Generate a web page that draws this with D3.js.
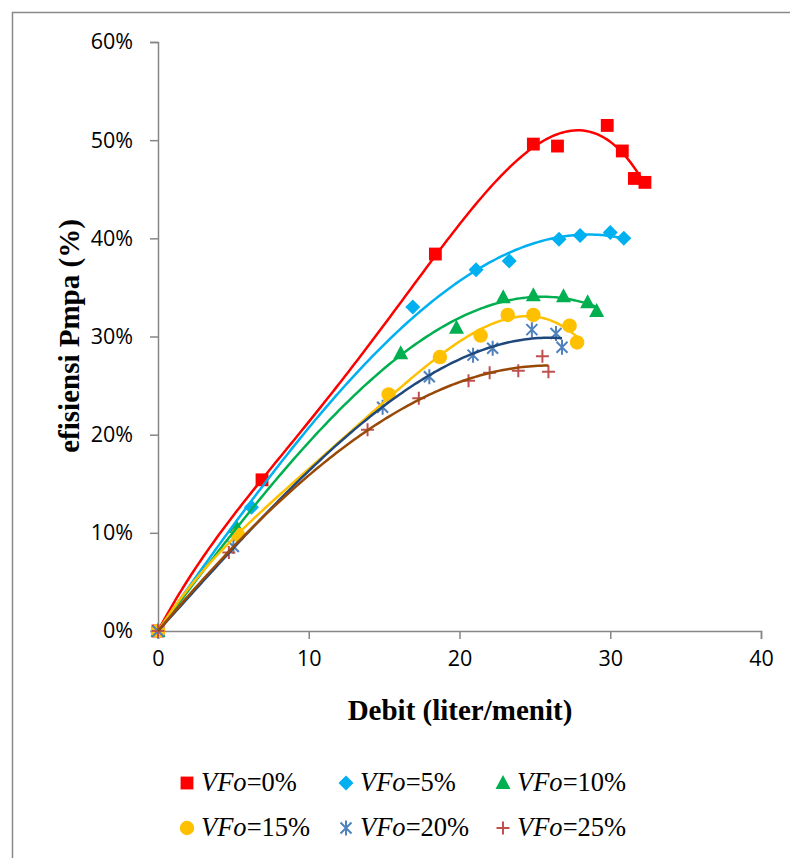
<!DOCTYPE html>
<html>
<head>
<meta charset="utf-8">
<script src="https://cdn.jsdelivr.net/npm/d3@7"></script>
<style>
  body { margin: 0; background: #fff; }
  svg { display: block; }
</style>
</head>
<body>
<div id="chart"></div>
<script>
// DATA
const seriesLabels = ["0%", "5%", "10%", "15%", "20%", "25%"];

const debit0 = [0, 6.9, 18.4, 24.9, 26.5, 29.8, 30.8, 31.6, 32.3];
const eff0 = [0, 15.4, 38.4, 49.6, 49.4, 51.5, 48.9, 46.1, 45.7];

const debit5 = [0, 6.2, 16.9, 21.1, 23.3, 26.6, 28.0, 30.0, 30.9];
const eff5 = [0, 12.6, 33.0, 36.8, 37.7, 39.9, 40.3, 40.6, 40.0];

const debit10 = [0, 5.2, 16.1, 19.8, 22.9, 24.9, 26.9, 28.5, 29.1];
const eff10 = [0, 10.6, 28.3, 30.9, 34.0, 34.2, 34.1, 33.5, 32.6];

const debit15 = [0, 5.3, 15.3, 18.7, 21.4, 23.2, 24.9, 27.3, 27.8];
const eff15 = [0, 9.8, 24.1, 27.9, 30.1, 32.2, 32.2, 31.1, 29.4];

const debit20 = [0, 5.0, 14.9, 18.0, 20.9, 22.2, 24.8, 26.4, 26.8];
const eff20 = [0, 8.6, 22.8, 25.9, 28.1, 28.8, 30.7, 30.3, 28.9];

const debit25 = [0, 4.7, 13.9, 17.3, 20.6, 22.0, 23.9, 25.5, 25.9];
const eff25 = [0, 8.0, 20.5, 23.7, 25.5, 26.3, 26.5, 28.0, 26.4];

const xTicks = [0, 10, 20, 30, 40];
const yTicks = [0, 10, 20, 30, 40, 50, 60];

// STYLE
const markerColors = ["#ff0000", "#00b0f0", "#00b050", "#ffc000", "#4f81bd", "#c0504d"];
const lineColors = ["#ff0000", "#00b0f0", "#00b050", "#ffc000", "#1f497d", "#984807"];
const markerKinds = ["square", "diamond", "triangle", "circle", "star", "plus"];
const trendOrder = [4, 3, 3, 4, 3, 3];

const series = [
    [debit0, eff0], [debit5, eff5], [debit10, eff10],
    [debit15, eff15], [debit20, eff20], [debit25, eff25]
].map(function (p, i) {
    return {
        label: seriesLabels[i],
        points: p[0].map(function (x, j) { return { x: x, y: p[1][j] }; }),
        kind: markerKinds[i],
        mColor: markerColors[i],
        lColor: lineColors[i],
        order: trendOrder[i]
    };
});

// polynomial trendline, intercept set to 0
function polyFit(pts, order) {
    const A = [], b = [];
    for (let i = 0; i < order; i++) {
        A.push(new Array(order).fill(0));
        b.push(0);
    }
    pts.forEach(function (p) {
        for (let i = 0; i < order; i++) {
            const xi = Math.pow(p.x, i + 1);
            b[i] += p.y * xi;
            for (let j = 0; j < order; j++) {
                A[i][j] += xi * Math.pow(p.x, j + 1);
            }
        }
    });
    // gauss
    for (let c = 0; c < order; c++) {
        let piv = c;
        for (let r = c + 1; r < order; r++) {
            if (Math.abs(A[r][c]) > Math.abs(A[piv][c])) piv = r;
        }
        [A[c], A[piv]] = [A[piv], A[c]];
        [b[c], b[piv]] = [b[piv], b[c]];
        for (let r = c + 1; r < order; r++) {
            const f = A[r][c] / A[c][c];
            for (let k = c; k < order; k++) A[r][k] -= f * A[c][k];
            b[r] -= f * b[c];
        }
    }
    const coef = new Array(order).fill(0);
    for (let r = order - 1; r >= 0; r--) {
        let s = b[r];
        for (let k = r + 1; k < order; k++) s -= A[r][k] * coef[k];
        coef[r] = s / A[r][r];
    }
    return function (x) {
        let y = 0;
        for (let i = 0; i < order; i++) y += coef[i] * Math.pow(x, i + 1);
        return y;
    };
}

function markerPath(kind) {
    if (kind === 'square') return d3.symbol(d3.symbolSquare, 165)();
    if (kind === 'diamond') return 'M0,-7.5L7.5,0L0,7.5L-7.5,0Z';
    if (kind === 'triangle') return 'M0,-8L7.5,6L-7.5,6Z';
    if (kind === 'circle') return d3.symbol(d3.symbolCircle, 165)();
    if (kind === 'star') return 'M-5.5,-5.5L5.5,5.5M-5.5,5.5L5.5,-5.5M0,-7.5V7.5';
    return 'M-6.5,0H6.5M0,-6.5V6.5';
}

function drawMarker(g, kind, color) {
    const stroked = kind === 'star' || kind === 'plus';
    g.append('path')
        .attr('d', markerPath(kind))
        .attr('fill', stroked ? 'none' : color)
        .attr('stroke', stroked ? color : 'none')
        .attr('stroke-width', stroked ? 2 : 0);
}

function render() {
    const width = 790, height = 858;
    const svg = d3.select('#chart').append('svg')
        .attr('width', width)
        .attr('height', height);

    // chart border
    svg.append('rect')
        .attr('x', 12.5).attr('y', 12.5)
        .attr('width', 820).attr('height', 900)
        .attr('fill', 'none')
        .attr('stroke', '#898989')
        .attr('stroke-width', 1.5);

    const x = d3.scaleLinear().domain([0, 40]).range([158, 761]);
    const y = d3.scaleLinear().domain([0, 60]).range([631, 42]);

    // axes
    const xAxis = svg.append('g')
        .attr('transform', `translate(0,${y(0)})`)
        .call(d3.axisBottom(x).tickValues(xTicks).tickSize(8).tickPadding(12));
    const yAxis = svg.append('g')
        .attr('transform', `translate(${x(0)},0)`)
        .call(d3.axisLeft(y).tickValues(yTicks).tickSize(8).tickPadding(17)
            .tickFormat(function (d) { return d + '%'; }));

    [xAxis, yAxis].forEach(function (a) {
        a.select('.domain').attr('stroke', '#868686').attr('stroke-width', 1.5);
        a.selectAll('.tick line').attr('stroke', '#868686').attr('stroke-width', 1.5);
        a.selectAll('.tick text')
            .attr('fill', '#000')
            .style('font-family', '"Open Sans", sans-serif')
            .style('font-size', '21.5px');
    });

    // axis titles
    svg.append('text')
        .attr('x', 460).attr('y', 720)
        .attr('text-anchor', 'middle')
        .style('font-family', '"Liberation Serif", serif')
        .style('font-weight', 'bold')
        .style('font-size', '29px')
        .text('Debit (liter/menit)');

    svg.append('text')
        .attr('transform', 'translate(79,336) rotate(-90)')
        .attr('text-anchor', 'middle')
        .style('font-family', '"Liberation Serif", serif')
        .style('font-weight', 'bold')
        .style('font-size', '29px')
        .text('efisiensi Pmpa (%)');

    // markers
    series.forEach(function (s) {
        const g = svg.append('g').attr('class', 'markers');
        s.points.forEach(function (p) {
            const m = g.append('g').attr('transform', `translate(${x(p.x)},${y(p.y)})`);
            drawMarker(m, s.kind, s.mColor);
        });
    });

    // trendlines
    const line = d3.line()
        .x(function (d) { return x(d.x); })
        .y(function (d) { return y(d.y); });

    series.forEach(function (s) {
        const f = polyFit(s.points, s.order);
        const maxX = d3.max(s.points, function (p) { return p.x; });
        const xs = d3.range(0, maxX, 0.2).concat([maxX]);
        svg.append('path')
            .datum(xs.map(function (v) { return { x: v, y: f(v) }; }))
            .attr('d', line)
            .attr('fill', 'none')
            .attr('stroke', s.lColor)
            .attr('stroke-width', 2.5);
    });

    // legend
    const colX = [187, 346, 503];
    const rowY = [783, 828];
    series.forEach(function (s, i) {
        const lx = colX[i % 3], ly = rowY[Math.floor(i / 3)];
        const g = svg.append('g').attr('transform', `translate(${lx},${ly})`);
        drawMarker(g, s.kind, s.mColor);
        const t = g.append('text')
            .attr('x', 14).attr('y', 8)
            .style('font-family', '"Liberation Serif", serif')
            .style('font-size', '26.5px');
        t.append('tspan').style('font-style', 'italic').text('VFo');
        t.append('tspan').text('=' + s.label);
    });
}

window.onload = render;
</script>
</body>
</html>
